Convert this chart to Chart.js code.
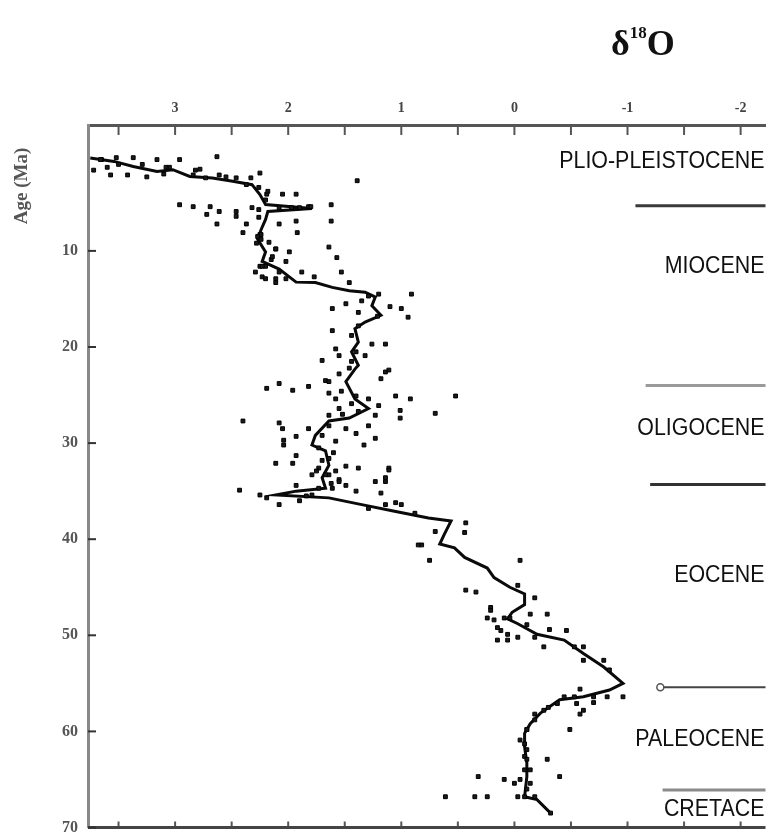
<!DOCTYPE html>
<html>
<head>
<meta charset="utf-8">
<style>
html,body{margin:0;padding:0;background:#fff;}
#wrap{position:relative;width:771px;height:833px;}
</style>
<script src="https://cdn.jsdelivr.net/npm/chart.js@4.4.1/dist/chart.umd.min.js"></script>
</head>
<body>
<div id="wrap"><canvas id="c" width="771" height="833"></canvas></div>
<script>
// ---- running mean curve (δ18O, age in Ma) ----
const meanD18O = [3.75,3.54,3.37,3.16,3.02,2.87,2.67,2.49,2.32,2.25,2.20,1.79,2.18,2.20,2.24,2.27,2.20,2.23,2.08,1.93,
  1.76,1.61,1.46,1.32,1.23,1.26,1.18,1.32,1.41,1.38,1.44,1.38,1.41,1.49,1.41,1.29,1.46,1.64,1.76,1.79,
  1.67,1.64,1.70,1.67,1.93,2.11,1.64,1.35,1.06,0.76,0.56,0.62,0.66,0.53,0.44,0.24,0.18,0.04,-0.09,-0.09,
  0.02,0.06,-0.03,-0.20,-0.44,-0.61,-0.79,-0.96,-0.84,-0.61,-0.40,-0.23,-0.14,-0.09,-0.09,-0.11,-0.11,-0.09,-0.20,-0.32];
const meanAge = [0.34,0.69,1.21,1.73,1.55,2.25,2.41,2.76,3.11,4.14,5.18,5.59,5.9,6.73,7.8,8.8,10.1,11.1,11.9,13.25,
  13.3,13.8,14.15,14.3,14.8,15.7,16.7,17.4,18.1,19.5,20.5,21.9,22.3,23.6,25.4,26.4,27.4,27.7,29.2,30.2,
  30.8,32.3,33.6,34.7,35.0,35.4,35.7,36.4,37.1,37.8,38.1,39.5,40.5,40.9,41.9,43.0,44.0,45.0,45.7,46.8,
  47.6,48.3,48.8,49.9,50.5,51.9,53.3,55.0,55.7,56.4,56.7,58.1,59.2,60.2,61.6,63.3,64.7,66.8,67.1,68.5];

// ---- individual samples ----
const plioD18O = [3.72,3.57,3.42,3.25,3.37,3.16,2.96,2.63,2.84,2.61,2.46,2.25,2.37,2.96,2.84,2.69,2.61,2.72,2.46,2.63,
  2.37,2.40,2.05,1.93,1.90,1.82,2.08,1.93,1.92,2.19,2.25,1.39,3.65,3.50,3.05,2.78,3.60,3.10,
  3.66,3.52,3.29,3.08,2.82,2.73,2.55,2.33,2.26,2.18,2.20,2.26,2.08,1.97,1.80,2.46,2.32,2.26,2.24];
const plioAge  = [1.6,2.1,2.1,2.3,0.3,0.5,0.5,0.2,2.1,2.1,2.4,1.9,3.1,5.2,5.4,5.4,5.9,6.2,5.9,7.2,
  7.2,8.1,4.1,4.1,5.5,5.4,7.2,6.9,8.1,4.1,8.3,2.7,0.5,1.0,1.3,1.5,1.3,2.0,
  0.5,0.3,1.0,1.3,1.6,2.4,2.3,2.4,3.4,3.8,4.7,5.7,5.5,5.5,5.4,6.4,5.5,6.5,8.3];

const mioD18O = [1.62,1.62,1.64,1.57,1.53,1.88,1.77,2.25,2.23,2.11,1.99,2.11,2.02,1.46,1.20,0.91,1.49,1.38,1.61,1.10,
  1.00,0.94,1.61,1.14,1.26,1.58,1.32,1.14,1.46,1.70,1.29,2.28,2.15,
  2.27,2.24,2.11,2.14,2.20,2.29,2.20,2.08,2.02,2.17,2.23,2.11,1.35,1.21,1.38,1.44,1.40];
const mioAge  = [5.2,6.9,9.6,10.7,12.2,12.2,12.7,11.6,12.7,13.3,10.1,9.8,11.1,13.3,14.5,14.5,15.5,16.4,16.0,15.8,
  16.0,16.9,18.3,19.7,19.7,20.2,20.9,22.6,22.2,21.4,14.7,9.2,10.9,
  8.5,8.8,9.8,10.6,11.6,12.2,12.9,12.2,12.9,9.1,11.6,12.9,15.2,16.8,17.8,18.8,20.5];

const oligoD18O = [2.19,2.08,1.96,1.82,1.67,1.55,1.11,1.18,1.05,0.92,1.01,1.01,2.40,2.08,2.05,2.04,2.04,1.93,1.82,1.64,
  1.55,1.49,1.29,1.23,1.33,1.40,1.93,2.11,1.96,1.79,1.73,1.64,1.49,1.38,1.49,1.40,1.23,1.14,1.11,1.18,
  2.43,2.25,2.19,2.08,1.93,1.90,1.58,1.05,1.73,0.52,0.70,1.11,1.14,1.58,1.44,1.64,1.52,1.60,1.70,1.55,1.62,
  1.55,1.44,1.64,1.53,1.40,1.29,1.20,1.38,1.23,1.64,1.70,1.58,1.73,1.64,1.75,1.67,1.55,1.61,1.79,1.84,
  1.29,1.14,1.00,0.88];
const oligoAge  = [24.3,23.8,24.5,24.1,23.5,22.8,22.4,23.3,25.1,25.4,26.6,27.4,27.7,27.9,28.5,29.7,30.2,29.3,28.5,27.1,
  26.4,28.5,28.2,29.5,30.2,29.0,31.3,32.1,32.1,33.3,32.6,33.3,32.4,32.6,34.4,35.0,34.0,34.0,32.6,35.2,
  34.9,35.4,35.7,36.4,34.4,36.0,32.9,36.2,34.7,25.1,26.9,32.8,33.6,25.4,25.9,24.8,27.0,31.0,31.8,33.8,34.2,
  20.9,21.5,23.6,24.6,25.1,25.4,26.1,26.7,27.1,28.2,29.2,29.8,30.5,31.6,32.9,33.3,34.0,34.7,35.4,35.5,
  36.8,36.4,36.4,37.3];

const eoD18O = [0.43,0.44,0.70,0.82,0.75,-0.05,0.43,0.34,-0.03,-0.18,-0.29,0.21,0.24,0.04,-0.11,0.18,0.12,0.06,-0.14,-0.31,
  -0.46,-0.26,-0.53,-0.61,-0.61,-0.79,-0.84,
  0.85,0.21,0.09,0.15,0.06,-0.03,0.15,-0.18];
const eoAge  = [38.3,39.3,39.2,40.6,42.2,42.2,45.3,45.5,44.8,46.1,47.8,47.1,48.2,48.2,48.9,48.4,49.5,50.5,47.8,49.4,
  49.5,51.2,51.2,51.2,52.6,52.6,53.6,
  40.6,47.4,48.2,49.2,49.9,50.2,50.5,50.2];

const paleoD18O = [-0.96,-0.82,-0.58,-0.44,-0.58,-0.49,-0.18,-0.11,-0.29,-0.40,0.32,0.09,0.00,0.61,0.35,0.24,-0.09,-0.32,-0.09,-0.09,
  -0.09,-0.14,-0.70,-0.30,
  -0.53,-0.70,-0.38,-0.26,-0.18,-0.11,-0.05,-0.11,-0.11,-0.14,-0.05,-0.11,-0.03,-0.18,-0.55,-0.61];
const paleoAge  = [56.4,56.4,55.6,56.4,58.2,59.8,58.2,59.8,62.9,64.7,64.7,65.0,65.4,66.8,66.8,66.8,66.8,68.5,62.6,64.0,
  61.3,65.4,57.0,57.5,
  56.4,56.4,57.1,57.8,58.8,59.8,60.9,61.9,62.9,64.0,65.0,66.0,66.8,66.8,57.1,57.8];

// ---- epoch boundaries and names ----
const boundaryAges  = [5.3, 24.0, 34.3, 55.4, 66.1];
const boundaryStart = [-1.07, -1.16, -1.20, -1.29, -1.31];
const boundaryEnd   = -2.3;
const epochNames = ['PLIO-PLEISTOCENE','MIOCENE','OLIGOCENE','EOCENE','PALEOCENE','CRETACE'];
const epochLabelAges = [0.75, 11.6, 28.5, 43.8, 60.9, 68.1];

const xTickStep = 0.5;
const yTickStep = 10;

function pairs(xs, ys){ return xs.map((v,i)=>({x:v, y:ys[i]})); }

const sampleData = [].concat(
  pairs(plioD18O, plioAge), pairs(mioD18O, mioAge), pairs(oligoD18O, oligoAge),
  pairs(eoD18O, eoAge), pairs(paleoD18O, paleoAge));

const boundaryColors = ['#3a3a3a','#9a9a9a','#333333','#444444','#8a8a8a'];
const boundaryDatasets = boundaryAges.map((age,i)=>({
  type:'scatter',
  data:[{x:boundaryStart[i], y:age},{x:boundaryEnd, y:age}],
  showLine:true,
  borderColor:boundaryColors[i],
  borderWidth: i===3 ? 2 : 3,
  pointRadius: i===3 ? [3.5,0] : 0,
  pointBackgroundColor:'#fff',
  pointBorderColor:'#555',
  pointBorderWidth:1.5,
  order:3
}));

const decor = {
  id:'decor',
  afterDraw(chart){
    const {ctx, chartArea:a, scales:{x,y}} = chart;
    ctx.save();
    // inward ticks on top & bottom axes
    ctx.strokeStyle='#555'; ctx.lineWidth=2;
    x.ticks.forEach(t=>{
      const px = x.getPixelForValue(t.value);
      ctx.beginPath(); ctx.moveTo(px, a.top); ctx.lineTo(px, a.top+10); ctx.stroke();
      ctx.beginPath(); ctx.moveTo(px, a.bottom); ctx.lineTo(px, a.bottom-6); ctx.stroke();
    });
    // bottom axis line
    ctx.strokeStyle='#444'; ctx.lineWidth=3;
    ctx.beginPath(); ctx.moveTo(a.left, a.bottom); ctx.lineTo(a.right, a.bottom); ctx.stroke();
    // y inward ticks
    ctx.strokeStyle='#333'; ctx.lineWidth=2;
    y.ticks.forEach(t=>{
      if (t.value <= 0) return;
      const py = y.getPixelForValue(t.value);
      ctx.beginPath(); ctx.moveTo(a.left, py); ctx.lineTo(a.left+8, py); ctx.stroke();
    });
    // epoch names
    ctx.fillStyle='#111';
    ctx.font='23px "Liberation Sans", Arial, sans-serif';
    ctx.textAlign='right'; ctx.textBaseline='middle';
    epochNames.forEach((n,i)=>{
      const py = y.getPixelForValue(epochLabelAges[i]);
      ctx.save(); ctx.translate(a.right-1, py); ctx.scale(0.93,1); ctx.fillText(n,0,0); ctx.restore();
    });
    // title δ18O
    ctx.textAlign='left'; ctx.textBaseline='alphabetic'; ctx.fillStyle='#111';
    ctx.font='bold 36px "Liberation Serif", serif';
    let tx = 611;
    ctx.fillText('δ', tx, 55); tx += ctx.measureText('δ').width;
    ctx.font='bold 17px "Liberation Serif", serif';
    ctx.fillText('18', tx, 38); tx += ctx.measureText('18').width;
    ctx.font='bold 36px "Liberation Serif", serif';
    ctx.fillText('O', tx, 55);
    // y axis title
    ctx.save();
    ctx.translate(22, 186); ctx.rotate(-Math.PI/2);
    ctx.textAlign='center'; ctx.textBaseline='middle';
    ctx.fillStyle='#555';
    ctx.font='bold 19px "Liberation Serif", serif';
    ctx.fillText('Age (Ma)', 0, 0);
    ctx.restore();
    ctx.restore();
  }
};

new Chart(document.getElementById('c'), {
  type:'scatter',
  data:{
    datasets:[
      {
        data: pairs(meanD18O, meanAge),
        showLine:true, borderColor:'#0a0a0a', borderWidth:3,
        pointRadius:0, tension:0, order:2
      },
      {
        data: sampleData,
        pointStyle:'rect', pointRadius:2.7,
        backgroundColor:'#1a1a1a', borderColor:'#000', borderWidth:1,
        order:1
      },
      ...boundaryDatasets
    ]
  },
  options:{
    responsive:false, animation:false,
    layout:{padding:{top:0,left:0,right:0,bottom:2}},
    plugins:{legend:{display:false}, tooltip:{enabled:false}, title:{display:false}},
    scales:{
      x:{
        type:'linear', position:'top', reverse:true, min:-2.22, max:3.77,
        ticks:{stepSize:xTickStep, includeBounds:false, autoSkip:false, maxRotation:0, padding:8,
          color:'#444', font:{family:'"Liberation Serif", serif', size:14, weight:'bold'},
          callback:v=>Number.isInteger(v) ? String(v) : ''},
        grid:{display:true, drawOnChartArea:false, drawTicks:false},
        border:{display:true, color:'#555', width:3},
        afterFit:s=>{ s.height=125; s.paddingLeft=0; s.paddingRight=0; }
      },
      y:{
        type:'linear', reverse:true, min:-3.1, max:70,
        ticks:{stepSize:yTickStep, includeBounds:false, padding:10,
          color:'#555', font:{family:'"Liberation Serif", serif', size:16, weight:'bold'},
          callback:v=>v===0 ? '' : String(v)},
        grid:{display:true, drawOnChartArea:false, drawTicks:false},
        border:{display:true, color:'#888', width:3},
        afterFit:s=>{ s.width=88; s.paddingTop=0; s.paddingBottom=0; }
      }
    }
  },
  plugins:[decor]
});
</script>
</body>
</html>
